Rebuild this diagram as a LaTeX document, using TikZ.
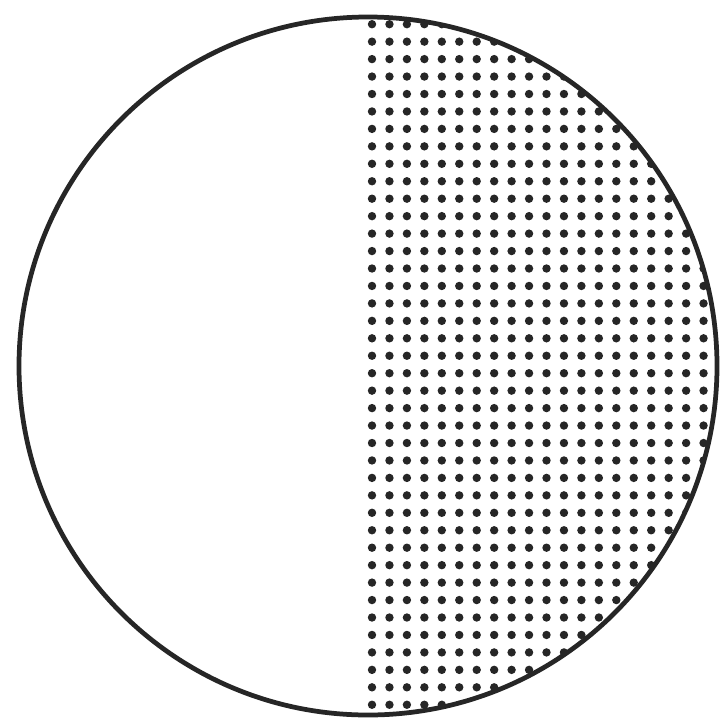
\documentclass[tikz,border=0pt]{standalone}
\usepackage{tikz}

\begin{document}
\begin{tikzpicture}[
			x=0.02cm, y=-0.02cm,
			rim/.style={draw=black!85, line width=0.095cm},
			dotmark/.style={fill=black!85}
			]
			
			\useasboundingbox (0,0) rectangle (722,720);
			
			\coordinate (centre) at (368,366);
			
			% dotted right half
			\begin{scope}
				\clip (centre) circle [radius=349];
				\clip (364,0) rectangle (722,720);
				\foreach \i in {0,...,20}
				\foreach \j in {0,...,39}
				\fill[dotmark] (372+17.45*\i, 24.2+17.45*\j) circle [radius=4.2];
			\end{scope}
			
			\draw[rim] (centre) circle [radius=349];
			
		\end{tikzpicture}
\end{document}
